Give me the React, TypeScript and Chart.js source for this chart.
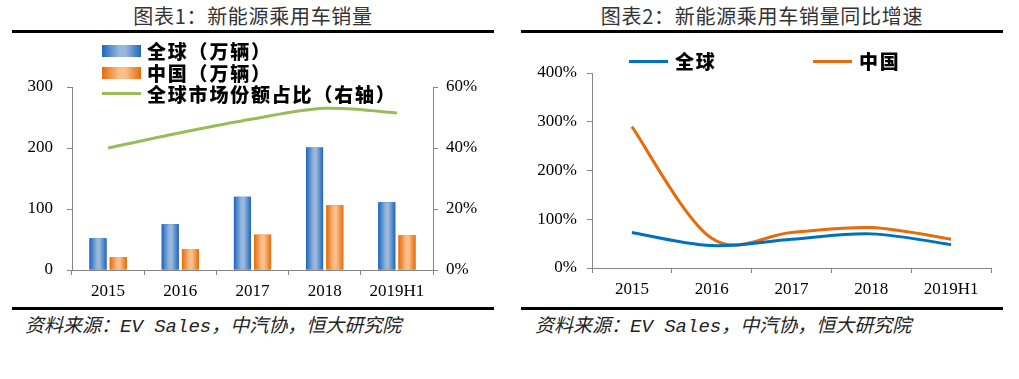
import React, { useEffect, useRef } from 'react';
import { Chart, registerables } from 'chart.js';

Chart.register(...registerables);

// ---------- data ----------
const categories = ['2015', '2016', '2017', '2018', '2019H1'];
const globalSales = [52, 75, 120, 201, 111];
const chinaSales = [21, 34, 58, 106, 57];
const chinaShare = [40, 45, 49.5, 53, 51.5];
const globalGrowth = [73, 46, 59, 70, 48];
const chinaGrowth = [290, 61, 73, 83, 59];
const salesTicks = [0, 100, 200, 300];
const shareTicks = [0, 20, 40, 60];
const growthTicks = [0, 100, 200, 300, 400];

const SERIF = "'Liberation Serif', 'Times New Roman', serif";
const CJK = "'Noto Sans CJK SC', 'Noto Sans', sans-serif";
const AXIS = '#868686';

// Horizontal gradient fill on top of each library-positioned bar
const gradientBars = {
  id: 'gradientBars',
  afterDatasetDraw(chart: any, args: any) {
    const ds = chart.data.datasets[args.index];
    if (!ds.gradient) return;
    const ctx = chart.ctx;
    ctx.save();
    for (const el of args.meta.data) {
      const { x, y, base, width } = el.getProps(['x', 'y', 'base', 'width'], true);
      const l = x - width / 2;
      const r = x + width / 2;
      const g = ctx.createLinearGradient(l, 0, r, 0);
      g.addColorStop(0, ds.gradient[0]);
      g.addColorStop(0.45, ds.gradient[1]);
      g.addColorStop(0.6, ds.gradient[1]);
      g.addColorStop(1, ds.gradient[0]);
      ctx.fillStyle = g;
      ctx.fillRect(l, Math.min(y, base), width, Math.abs(base - y));
    }
    ctx.restore();
  },
};

// Excel-style smoothing (uniform Catmull-Rom) for the line elements
const excelSmooth = {
  id: 'excelSmooth',
  beforeDatasetDraw(chart: any, args: any) {
    const meta = args.meta;
    const line = meta.dataset;
    if (meta.type !== 'line' || !line) return;
    line.updateControlPoints(chart.chartArea, meta.indexAxis);
    const pts = meta.data;
    const n = pts.length;
    for (let i = 0; i < n; i++) {
      const p = pts[i];
      const prev = pts[Math.max(0, i - 1)];
      const next = pts[Math.min(n - 1, i + 1)];
      const dx = (next.x - prev.x) / 6;
      const dy = (next.y - prev.y) / 6;
      p.cp1x = p.x - dx;
      p.cp1y = p.y - dy;
      p.cp2x = p.x + dx;
      p.cp2y = p.y + dy;
    }
  },
};

const tickFont = { family: SERIF, size: 17 };

function SalesChart() {
  const ref = useRef<HTMLCanvasElement>(null);
  useEffect(() => {
    const chart = new Chart(ref.current!, {
      type: 'bar',
      data: {
        labels: categories,
        datasets: [
          {
            type: 'line',
            label: '全球市场份额占比（右轴）',
            data: chinaShare,
            yAxisID: 'y1',
            borderColor: '#9BBB59',
            borderWidth: 3,
            pointRadius: 0,
            tension: 0.4,
            order: 0,
          } as any,
          {
            label: '全球（万辆）',
            data: globalSales,
            backgroundColor: '#1F66BE',
            gradient: ['#1F66BE', '#9AB8DC'],
            categoryPercentage: 0.56,
            barPercentage: 0.84,
            order: 1,
          },
          {
            label: '中国（万辆）',
            data: chinaSales,
            backgroundColor: '#E46C0A',
            gradient: ['#E46C0A', '#FBBF8C'],
            categoryPercentage: 0.56,
            barPercentage: 0.84,
            order: 1,
          },
        ],
      },
      options: {
        responsive: false,
        animation: false,
        layout: { padding: { top: 52, left: 0, right: 0, bottom: 0 } },
        plugins: { legend: { display: false }, tooltip: { enabled: false } },
        scales: {
          x: {
            offset: true,
            grid: { offset: true, drawOnChartArea: false, drawTicks: true, tickLength: 5, color: AXIS },
            border: { display: true, color: AXIS, width: 1 },
            ticks: { font: tickFont, color: '#000', padding: 6, maxRotation: 0 },
            afterFit: (s: any) => { s.height = 37; },
          },
          y: {
            position: 'left',
            min: salesTicks[0],
            max: salesTicks[salesTicks.length - 1],
            afterBuildTicks: (s: any) => { s.ticks = salesTicks.map((v) => ({ value: v })); },
            grid: { drawOnChartArea: false, tickLength: 5, color: AXIS },
            border: { display: true, color: AXIS, width: 1 },
            ticks: { font: tickFont, color: '#000', padding: 14 },
            afterFit: (s: any) => { s.width = 60; },
          },
          y1: {
            position: 'right',
            min: shareTicks[0],
            max: shareTicks[shareTicks.length - 1],
            afterBuildTicks: (s: any) => { s.ticks = shareTicks.map((v) => ({ value: v })); },
            grid: { drawOnChartArea: false, tickLength: 5, color: AXIS },
            border: { display: true, color: AXIS, width: 1 },
            ticks: { font: tickFont, color: '#000', padding: 8, callback: (v: any) => v + '%' },
            afterFit: (s: any) => { s.width = 60; },
          },
        },
      } as any,
      plugins: [gradientBars, excelSmooth],
    });
    return () => chart.destroy();
  }, []);
  return (
    <canvas
      ref={ref}
      width={481}
      height={272}
      style={{ position: 'absolute', left: 12, top: 35, width: 481, height: 272 }}
    />
  );
}

function GrowthChart() {
  const ref = useRef<HTMLCanvasElement>(null);
  useEffect(() => {
    const chart = new Chart(ref.current!, {
      type: 'line',
      data: {
        labels: categories,
        datasets: [
          {
            label: '全球',
            data: globalGrowth,
            borderColor: '#0070C0',
            borderWidth: 3,
            pointRadius: 0,
            tension: 0.4,
          },
          {
            label: '中国',
            data: chinaGrowth,
            borderColor: '#E46C0A',
            borderWidth: 3,
            pointRadius: 0,
            tension: 0.4,
          },
        ],
      },
      options: {
        responsive: false,
        animation: false,
        layout: { padding: { top: 33, left: 0, right: 12, bottom: 0 } },
        plugins: { legend: { display: false }, tooltip: { enabled: false } },
        scales: {
          x: {
            offset: true,
            grid: { offset: true, drawOnChartArea: false, drawTicks: true, tickLength: 5, color: AXIS },
            border: { display: true, color: AXIS, width: 1 },
            ticks: { font: tickFont, color: '#000', padding: 6, maxRotation: 0 },
            afterFit: (s: any) => { s.height = 37; },
          },
          y: {
            position: 'left',
            min: growthTicks[0],
            max: growthTicks[growthTicks.length - 1],
            afterBuildTicks: (s: any) => { s.ticks = growthTicks.map((v) => ({ value: v })); },
            grid: { drawOnChartArea: false, tickLength: 5, color: AXIS },
            border: { display: true, color: AXIS, width: 1 },
            ticks: { font: tickFont, color: '#000', padding: 10, callback: (v: any) => v + '%' },
            afterFit: (s: any) => { s.width = 71; },
          },
        },
      } as any,
      plugins: [excelSmooth],
    });
    return () => chart.destroy();
  }, []);
  return (
    <canvas
      ref={ref}
      width={482}
      height={265}
      style={{ position: 'absolute', left: 521, top: 40, width: 482, height: 265 }}
    />
  );
}

const abs = (s: React.CSSProperties): React.CSSProperties => ({ position: 'absolute', ...s });

const titleStyle: React.CSSProperties = {
  fontFamily: CJK,
  fontSize: 20,
  lineHeight: '20px',
  letterSpacing: '0.7px',
  color: '#333',
  textAlign: 'center',
  whiteSpace: 'nowrap',
};

const legendText: React.CSSProperties = {
  fontFamily: CJK,
  fontSize: 19,
  fontWeight: 900,
  lineHeight: '22px',
  letterSpacing: '1.8px',
  color: '#000',
  whiteSpace: 'nowrap',
};

const sourceStyle: React.CSSProperties = {
  fontFamily: "'Liberation Mono', " + CJK,
  fontSize: 19,
  fontStyle: 'italic',
  lineHeight: '20px',
  color: '#222',
  whiteSpace: 'nowrap',
};

export default function App() {
  return (
    <div style={abs({ left: 0, top: 0, width: 1019, height: 379, background: '#fff', overflow: 'hidden' })}>
      {/* Left panel */}
      <div style={abs({ ...titleStyle, left: 12, top: 6, width: 482 })}>图表1：新能源乘用车销量</div>
      <div style={abs({ left: 12, top: 30, width: 482, height: 3, background: '#000' })} />
      <SalesChart />
      <div style={abs({ left: 102, top: 45, width: 39, height: 12, background: 'linear-gradient(to right, #1F66BE 0%, #9AB8DC 45%, #9AB8DC 60%, #1F66BE 100%)' })} />
      <div style={abs({ ...legendText, left: 147, top: 40 })}>全球（万辆）</div>
      <div style={abs({ left: 102, top: 67, width: 39, height: 12, background: 'linear-gradient(to right, #E46C0A 0%, #FBBF8C 45%, #FBBF8C 60%, #E46C0A 100%)' })} />
      <div style={abs({ ...legendText, left: 147, top: 61.5 })}>中国（万辆）</div>
      <div style={abs({ left: 102, top: 92, width: 39, height: 3, background: '#9BBB59' })} />
      <div style={abs({ ...legendText, left: 147, top: 83 })}>全球市场份额占比（右轴）</div>
      <div style={abs({ left: 12, top: 307, width: 482, height: 3, background: '#000' })} />
      <div style={abs({ ...sourceStyle, left: 25, top: 317 })}>资料来源：EV Sales，中汽协，恒大研究院</div>

      {/* Right panel */}
      <div style={abs({ ...titleStyle, left: 521, top: 6, width: 482 })}>图表2：新能源乘用车销量同比增速</div>
      <div style={abs({ left: 521, top: 30, width: 482, height: 3, background: '#000' })} />
      <GrowthChart />
      <div style={abs({ left: 629, top: 60, width: 39, height: 3, background: '#0070C0' })} />
      <div style={abs({ ...legendText, left: 675, top: 50 })}>全球</div>
      <div style={abs({ left: 813, top: 60, width: 39, height: 3, background: '#E46C0A' })} />
      <div style={abs({ ...legendText, left: 859, top: 50 })}>中国</div>
      <div style={abs({ left: 521, top: 307, width: 482, height: 3, background: '#000' })} />
      <div style={abs({ ...sourceStyle, left: 535, top: 317 })}>资料来源：EV Sales，中汽协，恒大研究院</div>
    </div>
  );
}
